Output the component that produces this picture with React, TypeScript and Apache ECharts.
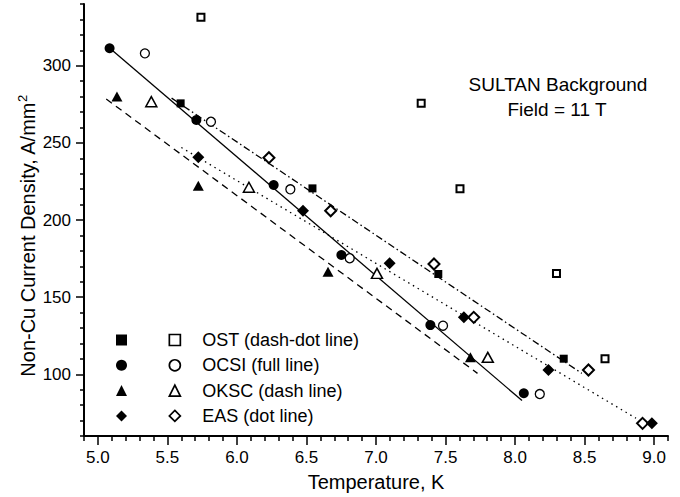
import React, { useEffect, useRef } from "react";
import * as echarts from "echarts";

// ---- data ----
const ostFilled = [[5.595, 275.6], [6.543, 220.5], [7.448, 165.0], [8.35, 110.1]];
const ostOpen = [[5.741, 331.4], [7.325, 275.6], [7.604, 220.3], [8.298, 165.4], [8.647, 110.1]];
const ocsiFilled = [[5.084, 311.3], [5.708, 264.8], [6.264, 222.7], [6.751, 177.3], [7.391, 131.9], [8.063, 87.7]];
const ocsiOpen = [[5.338, 308.0], [5.813, 263.7], [6.384, 219.9], [6.811, 175.2], [7.482, 131.5], [8.178, 87.2]];
const okscFilled = [[5.137, 280.0], [5.722, 222.2], [6.655, 166.5], [7.679, 111.0]];
const okscOpen = [[5.384, 276.7], [6.086, 221.2], [7.007, 165.4], [7.804, 111.0]];
const easFilled = [[5.722, 240.6], [6.475, 206.0], [7.098, 171.9], [7.632, 136.9], [8.24, 102.8], [8.984, 68.2]];
const easOpen = [[6.23, 240.4], [6.674, 206.0], [7.417, 171.5], [7.703, 136.9], [8.528, 102.8], [8.917, 68.2]];

const ostFit = [[5.53, 279.0], [8.48, 100.6]];
const ocsiFit = [[5.09, 311.0], [8.05, 83.0]];
const okscFit = [[5.06, 278.4], [7.73, 100.6]];
const easFit = [[5.6, 247.0], [8.87, 71.5]];

const filledNames = ["OST", "OCSI", "OKSC", "EAS"];
const openNames = ["OST (dash-dot line)", "OCSI (full line)", "OKSC (dash line)", "EAS (dot line)"];

const xMajorTicks = [5.0, 5.5, 6.0, 6.5, 7.0, 7.5, 8.0, 8.5, 9.0];
const xMinorTicks = [4.9, 5.1, 5.2, 5.3, 5.4, 5.6, 5.7, 5.8, 5.9, 6.1, 6.2, 6.3, 6.4, 6.6, 6.7, 6.8, 6.9, 7.1, 7.2, 7.3, 7.4, 7.6, 7.7, 7.8, 7.9, 8.1, 8.2, 8.3, 8.4, 8.6, 8.7, 8.8, 8.9, 9.1];
const yMajorTicks = [100, 150, 200, 250, 300];
const yMinorTicks = [60, 70, 80, 90, 110, 120, 130, 140, 160, 170, 180, 190, 210, 220, 230, 240, 260, 270, 280, 290, 310, 320, 330, 340];

const titleLines = ["SULTAN Background", "Field = 11 T"];
const xTitle = "Temperature, K";
const yTitle = "Non-Cu Current Density, A/mm{sup|2}";

const FONT = "'Liberation Sans', Arial, Helvetica, sans-serif";

export default function App() {
  const ref = useRef<HTMLDivElement>(null);

  useEffect(() => {
    if (!ref.current) return;
    const chart = echarts.init(ref.current, undefined, { renderer: "svg" });

    const scatter = (name: string, data: number[][], symbol: string, size: number | number[], open: boolean, bw: number) => ({
      type: "scatter",
      name,
      data,
      symbol,
      symbolSize: size,
      itemStyle: open
        ? { color: "#fff", borderColor: "#000", borderWidth: bw, opacity: 1 }
        : { color: "#000", borderWidth: 0, opacity: 1 },
      z: open ? 4 : 5,
      silent: true,
    });

    const fit = (data: number[][], type: any) => ({
      type: "line",
      data,
      showSymbol: false,
      symbol: "none",
      lineStyle: { color: "#000", width: 1.3, type },
      z: 2,
      silent: true,
    });

    const axisCommon = {
      type: "value",
      splitLine: { show: false },
      axisLine: { show: true, lineStyle: { color: "#000", width: 2 } },
    };

    chart.setOption({
      animation: false,
      backgroundColor: "#fff",
      grid: { left: 84, right: 12, top: 4, bottom: 61 },
      xAxis: [
        {
          ...axisCommon,
          min: 4.9,
          max: 9.1,
          axisTick: { show: true, length: 9, lineStyle: { color: "#000", width: 1.5 }, customValues: xMajorTicks },
          axisLabel: {
            customValues: xMajorTicks,
            formatter: (v: number) => v.toFixed(1),
            color: "#000",
            fontSize: 17,
            fontFamily: FONT,
            margin: 13,
          },
          name: xTitle,
          nameLocation: "middle",
          nameGap: 36,
          nameTextStyle: { color: "#000", fontSize: 20, fontFamily: FONT },
        },
        {
          type: "value",
          min: 4.9,
          max: 9.1,
          position: "bottom",
          splitLine: { show: false },
          axisLine: { show: false },
          axisLabel: { show: false },
          axisTick: { show: true, length: 5, lineStyle: { color: "#000", width: 1.5 }, customValues: xMinorTicks },
        },
      ],
      yAxis: [
        {
          ...axisCommon,
          min: 60,
          max: 340,
          axisTick: { show: true, length: 8, lineStyle: { color: "#000", width: 1.5 }, customValues: yMajorTicks },
          axisLabel: {
            customValues: yMajorTicks,
            color: "#000",
            fontSize: 17,
            fontFamily: FONT,
            margin: 13,
          },
        },
        {
          type: "value",
          min: 60,
          max: 340,
          position: "left",
          splitLine: { show: false },
          axisLine: { show: false },
          axisLabel: { show: false },
          axisTick: { show: true, length: 4, lineStyle: { color: "#000", width: 1.5 }, customValues: yMinorTicks },
        },
      ],
      legend: [
        {
          orient: "vertical",
          left: 111,
          top: 324,
          itemWidth: 11,
          itemHeight: 11,
          itemGap: 3.3,
          data: filledNames,
          formatter: () => " ",
          textStyle: { fontSize: 18, lineHeight: 22, fontFamily: FONT, color: "#000" },
          itemStyle: { color: "#000", borderWidth: 0, opacity: 1 },
          selectedMode: false,
        },
        {
          orient: "vertical",
          left: 163.5,
          top: 324,
          itemWidth: 11,
          itemHeight: 11,
          itemGap: 3.3,
          data: openNames,
          formatter: (n: string) => `{t|${n}}`,
          textStyle: {
            fontSize: 18,
            lineHeight: 22,
            fontFamily: FONT,
            color: "#000",
            rich: { t: { fontSize: 18, lineHeight: 22, fontFamily: FONT, color: "#000", padding: [0, 0, 0, 17] } },
          },
          itemStyle: { color: "#fff", borderColor: "#000", borderWidth: 1.7, opacity: 1 },
          selectedMode: false,
        },
      ],
      graphic: [
        {
          type: "text",
          x: 558,
          y: 84,
          silent: true,
          style: { text: titleLines[0], fontSize: 19, fontFamily: FONT, fill: "#000", align: "center", verticalAlign: "middle" },
        },
        {
          type: "text",
          x: 557,
          y: 109,
          silent: true,
          style: { text: titleLines[1], fontSize: 19, fontFamily: FONT, fill: "#000", align: "center", verticalAlign: "middle" },
        },
        {
          type: "text",
          x: 28,
          y: 236,
          rotation: Math.PI / 2,
          silent: true,
          style: {
            text: yTitle,
            fontSize: 20,
            lineHeight: 24,
            fontFamily: FONT,
            fill: "#000",
            align: "center",
            verticalAlign: "middle",
            rich: { sup: { fontSize: 13, lineHeight: 24, fontFamily: FONT, fill: "#000", verticalAlign: "top" } },
          },
        },
      ],
      series: [
        fit(ostFit, [7, 3, 1.5, 3]),
        fit(ocsiFit, "solid"),
        fit(okscFit, [7, 5]),
        fit(easFit, [1.5, 4]),
        scatter(filledNames[0], ostFilled, "rect", 8, false, 0),
        scatter(openNames[0], ostOpen, "rect", 7, true, 2),
        scatter(filledNames[1], ocsiFilled, "circle", 10, false, 0),
        scatter(openNames[1], ocsiOpen, "circle", 9, true, 1.3),
        scatter(filledNames[2], okscFilled, "triangle", [11, 10], false, 0),
        scatter(openNames[2], okscOpen, "triangle", [11, 10], true, 1.5),
        scatter(filledNames[3], easFilled, "diamond", [12, 12], false, 0),
        scatter(openNames[3], easOpen, "diamond", [11, 11], true, 2),
      ],
    });

    return () => chart.dispose();
  }, []);

  return (
    <div
      ref={ref}
      style={{ position: "fixed", left: 0, top: 0, width: 680, height: 497, background: "#fff" }}
    />
  );
}
